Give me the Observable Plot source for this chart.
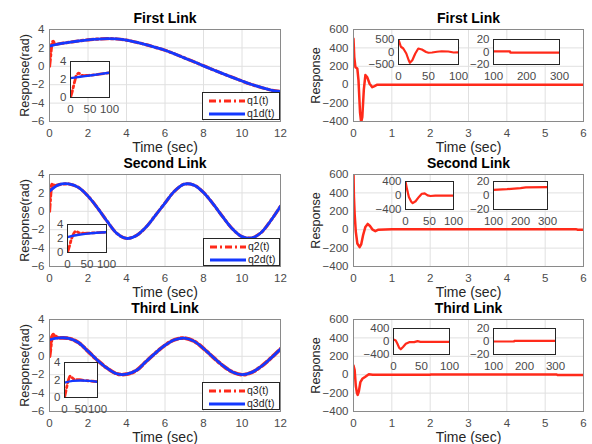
<!DOCTYPE html>
<html><head><meta charset="utf-8">
<script src="https://cdn.jsdelivr.net/npm/d3@7"></script>
<script src="https://cdn.jsdelivr.net/npm/@observablehq/plot@0.6"></script>
<style>
body{margin:0;background:#fff;}
#chart{position:relative;width:592px;height:444px;overflow:hidden;font-family:"Liberation Sans",Arial,sans-serif;background:#fff;}
#chart svg{position:absolute;}
.legend{position:absolute;border:1px solid #262626;background:#fff;font-size:10.5px;color:#222;box-sizing:border-box;}
.legend .row{position:absolute;left:0;height:12px;}
.legend .row span{position:absolute;left:44px;top:-1px;white-space:nowrap;}
.legend .row svg{position:absolute;left:5px;top:0;}
</style></head><body><div id="chart"></div>
<script>
// ---------- tick labels ----------
const xTicksLeft = [0, 2, 4, 6, 8, 10, 12];
const yTicksLeft = [-6, -4, -2, 0, 2, 4];
const xTicksRight = [0, 1, 2, 3, 4, 5, 6];
const yTicksRight = [-400, -200, 0, 200, 400, 600];
const insetXTicksA = [0, 50, 100];
const insetXTicksB = [100, 200, 300];
const insetYTicksL = [0, 2, 4];
const insetYTicks1 = [-500, 0, 500];
const insetYTicks2 = [-400, 0, 400];
const insetYTicksB = [-20, 0, 20];

// ---------- titles / labels ----------
const titles = ["First Link", "Second Link", "Third Link"];
const legendLabels = [["q1(t)", "q1d(t)"], ["q2(t)", "q2d(t)"], ["q3(t)", "q3d(t)"]];

// ---------- left column: joint positions ----------
const tMain = [0,0.5,1,1.5,2,2.5,3,3.5,4,4.5,5,5.5,6,6.5,7,7.5,8,8.5,9,9.5,10,10.5,11,11.5,12];
const q1d = [2.2,2.45,2.6,2.75,2.88,2.96,3.0,2.97,2.84,2.62,2.36,2.06,1.74,1.35,0.92,0.5,0.05,-0.37,-0.8,-1.2,-1.6,-1.98,-2.3,-2.58,-2.75];
const q2d = [2.2,2.9,2.97,2.6,1.65,0.35,-1.1,-2.4,-2.95,-2.65,-1.75,-0.45,0.9,2.2,2.95,2.85,2.05,0.8,-0.6,-1.9,-2.75,-2.9,-2.3,-1.0,0.55];
const q3d = [1.8,2.0,1.95,1.5,0.55,-0.45,-1.3,-1.9,-1.95,-1.55,-0.6,0.35,1.2,1.8,1.98,1.65,0.85,-0.1,-1.0,-1.7,-2.0,-1.75,-1.1,-0.2,0.8];
// actual response start-up transients (then it follows the desired path)
const q1tT = [0,0.04,0.08,0.12,0.16,0.2,0.25,0.35];
const q1tV = [0,0.8,1.7,2.4,2.65,2.7,2.5,2.4];
const q2tT = [0,0.04,0.08,0.12,0.16,0.22,0.3,0.4];
const q2tV = [0,1.2,2.3,2.9,3.0,2.85,2.8,2.85];
const q3tT = [0,0.04,0.08,0.13,0.2,0.27,0.35,0.45];
const q3tV = [0,0.7,1.5,2.1,2.35,2.25,2.1,2.02];

// left insets (x: 0..100)
const inXBlue = [0,25,50,75,100];
const in1Blue = [2.15,2.3,2.45,2.6,2.75];
const in1RedX = [0,4,8,12,15,21,30,40,50,60,80,100];
const in1Red = [0,0.6,1.3,2.0,2.45,2.7,2.45,2.45,2.48,2.52,2.62,2.75];
const in2Blue = [2.2,2.5,2.7,2.82,2.9];
const in2RedX = [0,5,10,15,20,25,30,40,50,60,80,100];
const in2Red = [0,0.9,1.9,2.6,3.0,2.95,2.8,2.75,2.75,2.78,2.85,2.9];
const in3Blue = [1.7,1.9,1.95,1.9,1.8];
const in3RedX = [0,4,8,12,17,22,28,35,45,55,75,100];
const in3Red = [0,0.7,1.4,2.0,2.45,2.3,2.1,2.05,2.05,1.98,1.9,1.8];

// ---------- right column: control inputs ----------
const u1T = [0,0.02,0.05,0.1,0.13,0.17,0.2,0.23,0.27,0.31,0.36,0.42,0.49,0.55,0.62,1,2,3,4,5,6];
const u1V = [500,300,190,175,50,-300,-410,-350,-50,105,80,10,-27,-15,0,0,0,0,0,0,0];
const u2T = [0,0.01,0.03,0.06,0.1,0.16,0.2,0.25,0.31,0.37,0.43,0.5,0.57,0.65,1,5.8,5.85,6];
const u2V = [620,370,170,-20,-150,-190,-160,-60,30,63,40,0,-16,0,4,6,0,0];
const u3T = [0,0.03,0.06,0.09,0.11,0.14,0.18,0.23,0.3,0.4,0.5,2,2.02,5.3,5.32,6];
const u3V = [100,50,-120,-200,-220,-180,-80,-45,-25,5,0,0,3,3,-3,-3];
// right insets
const r1aX = [0,4,8,13,17,19,23,28,33,39,46,50,56,64,72,83,92,100];
const r1aY = [500,210,140,-60,-330,-430,-330,-60,140,100,0,-30,-20,10,30,20,-20,-10];
const r1bX = [100,150,151,300];
const r1bY = [1,1,-1,-1];
const r2aX = [0,3,7,12,15,21,28,34,40,46,52,62,100];
const r2aY = [400,190,-40,-180,-220,-165,-40,50,60,5,-15,-5,-5];
const r2bX = [100,150,200,220,300];
const r2bY = [8,9,10.5,11.5,12];
const r3aX = [0,4,7,10,13,17,22,28,37,43,48,60,100];
const r3aY = [60,30,-70,-190,-240,-170,-70,-20,-20,10,-10,-10,-10];
const r3bX = [100,166,167,300];
const r3bY = [0,0,1,1];

// ---------- styling ----------
const RED = "#ff2a1a", BLUE = "#1438ff";
const FONT = "'Liberation Sans', Arial, sans-serif";
const rows = (xs, ys) => xs.map((x, i) => ({x, y: ys[i]}));
const chart = document.getElementById("chart");

function place(svg, left, top) {
  svg.style.left = left + "px";
  svg.style.top = top + "px";
  chart.appendChild(svg);
}

function mainPanel({f, svgL, svgR, xDomain, yDomain, xTicks, yTicks, lines, title, ylabel, ylabDx}) {
  const [x0, y0, x1, y1] = f;
  const mt = 29, mb = 30;
  const width = svgR - svgL, height = (y1 - y0) + mt + mb;
  const svg = Plot.plot({
    width, height,
    marginLeft: x0 - svgL, marginRight: svgR - x1, marginTop: mt, marginBottom: mb,
    style: {background: "transparent", overflow: "visible", fontFamily: FONT, fontSize: "11.5px", color: "#4a4a4a"},
    x: {domain: xDomain}, y: {domain: yDomain},
    marks: [
      Plot.gridX(xTicks, {stroke: "#e0e0e0", strokeOpacity: 1}),
      Plot.gridY(yTicks, {stroke: "#e0e0e0", strokeOpacity: 1}),
      Plot.axisX(xTicks, {tickSize: 0, tickPadding: 7, label: null, fontSize: 11.5}),
      Plot.axisY(yTicks, {tickSize: 0, tickPadding: 5, label: null, fontSize: 11.5}),
      ...lines,
      Plot.frame({stroke: "#8a8a8a"}),
      Plot.text([title], {text: d => d, frameAnchor: "top", dy: -11, lineAnchor: "middle", fontWeight: "bold", fontSize: 14, fill: "#000"}),
      Plot.text(["Time (sec)"], {text: d => d, frameAnchor: "bottom", dy: 26, lineAnchor: "middle", fontSize: 14, fill: "#262626"}),
      Plot.text([ylabel], {text: d => d, frameAnchor: "left", dx: ylabDx, rotate: -90, textAnchor: "middle", lineAnchor: "middle", fontSize: 12.5, fill: "#262626"})
    ]
  });
  place(svg, svgL, y0 - mt);
}

function inset({f, xDomain, yDomain, xTicks, yTicks, lines}) {
  const [x0, y0, x1, y1] = f;
  const ml = 34, mr = 12, mt = 8, mb = 22;
  const svg = Plot.plot({
    width: (x1 - x0) + ml + mr, height: (y1 - y0) + mt + mb,
    marginLeft: ml, marginRight: mr, marginTop: mt, marginBottom: mb,
    style: {background: "transparent", overflow: "visible", fontFamily: FONT, fontSize: "11.5px", color: "#4a4a4a"},
    x: {domain: xDomain}, y: {domain: yDomain},
    marks: [
      Plot.frame({fill: "white", stroke: "none"}),
      Plot.axisX(xTicks, {tickSize: 0, tickPadding: 7, label: null, fontSize: 11.5}),
      Plot.axisY(yTicks, {tickSize: 0, tickPadding: 4, label: null, fontSize: 11.5}),
      ...lines,
      Plot.frame({stroke: "#262626"})
    ]
  });
  place(svg, x0 - ml, y0 - mt);
}

const redDash = (data, w = 3.2) => Plot.line(data, {x: "x", y: "y", stroke: RED, strokeWidth: w, strokeDasharray: "7,3,2,3", curve: "catmull-rom", clip: true});
const blueLine = (data, w = 2.8) => Plot.line(data, {x: "x", y: "y", stroke: BLUE, strokeWidth: w, curve: "catmull-rom", clip: true});
const redSolid = (data, w = 2.5) => Plot.line(data, {x: "x", y: "y", stroke: RED, strokeWidth: w, clip: true});

// ---------- left column ----------
const leftFrames = [[49, 29, 280, 121], [49, 174, 280, 266], [49, 319, 280, 411]];
const desired = [q1d, q2d, q3d];
const transT = [q1tT, q2tT, q3tT];
const transV = [q1tV, q2tV, q3tV];
leftFrames.forEach((f, i) => {
  const blue = rows(tMain, desired[i]);
  const red = rows(transT[i], transV[i]).concat(rows(tMain.slice(1), desired[i].slice(1)));
  mainPanel({f, svgL: 0, svgR: 295, xDomain: [0, 12], yDomain: [-6, 4], xTicks: xTicksLeft, yTicks: yTicksLeft,
    lines: [redDash(red, i === 2 ? 3.8 : 3.2), blueLine(blue)], title: titles[i], ylabel: "Response(rad)", ylabDx: -25});
});

// ---------- right column ----------
const rightFrames = [[353, 29, 583, 121], [353, 174, 583, 266], [353, 319, 583, 411]];
const uT = [u1T, u2T, u3T], uV = [u1V, u2V, u3V];
rightFrames.forEach((f, i) => {
  mainPanel({f, svgL: 295, svgR: 592, xDomain: [0, 6], yDomain: [-400, 600], xTicks: xTicksRight, yTicks: yTicksRight,
    lines: [redSolid(rows(uT[i], uV[i]))], title: titles[i], ylabel: "Response", ylabDx: -38});
});

// ---------- left insets ----------
inset({f: [70, 61, 109, 97], xDomain: [0, 100], yDomain: [0, 4], xTicks: insetXTicksA, yTicks: insetYTicksL,
  lines: [redDash(rows(in1RedX, in1Red), 2.8), blueLine(rows(inXBlue, in1Blue), 2.4)]});
inset({f: [67, 224, 106, 252], xDomain: [0, 100], yDomain: [0, 4], xTicks: insetXTicksA, yTicks: insetYTicksL,
  lines: [redDash(rows(in2RedX, in2Red), 2.8), blueLine(rows(inXBlue, in2Blue), 2.4)]});
inset({f: [64, 362, 97, 397], xDomain: [0, 100], yDomain: [0, 4], xTicks: insetXTicksA, yTicks: insetYTicksL,
  lines: [redDash(rows(in3RedX, in3Red), 2.8), blueLine(rows(inXBlue, in3Blue), 2.4)]});

// ---------- right insets ----------
inset({f: [398, 39, 458, 64], xDomain: [0, 100], yDomain: [-500, 500], xTicks: insetXTicksA, yTicks: insetYTicks1,
  lines: [redSolid(rows(r1aX, r1aY), 2.2)]});
inset({f: [493, 39, 559, 64], xDomain: [100, 300], yDomain: [-20, 20], xTicks: insetXTicksB, yTicks: insetYTicksB,
  lines: [redSolid(rows(r1bX, r1bY), 2.2)]});
inset({f: [405, 181, 453, 209], xDomain: [0, 100], yDomain: [-400, 400], xTicks: insetXTicksA, yTicks: insetYTicks2,
  lines: [redSolid(rows(r2aX, r2aY), 2.2)]});
inset({f: [493, 181, 547, 209], xDomain: [100, 300], yDomain: [-20, 20], xTicks: insetXTicksB, yTicks: insetYTicksB,
  lines: [redSolid(rows(r2bX, r2bY), 2.2)]});
inset({f: [393, 328, 449, 354], xDomain: [0, 100], yDomain: [-400, 400], xTicks: insetXTicksA, yTicks: insetYTicks2,
  lines: [redSolid(rows(r3aX, r3aY), 2.2)]});
inset({f: [493, 328, 555, 354], xDomain: [100, 300], yDomain: [-20, 20], xTicks: insetXTicksB, yTicks: insetYTicksB,
  lines: [redSolid(rows(r3bX, r3bY), 2.2)]});

// ---------- legends ----------
const legendBoxes = [[202, 92, 280, 120], [203, 238, 280, 266], [202, 382, 280, 410]];
legendBoxes.forEach(([x0, y0, x1, y1], i) => {
  const div = document.createElement("div");
  div.className = "legend";
  Object.assign(div.style, {left: x0 + "px", top: y0 + "px", width: (x1 - x0) + "px", height: (y1 - y0) + "px"});
  const entries = [
    {label: legendLabels[i][0], stroke: RED, dash: "7,3,2,3", w: 3},
    {label: legendLabels[i][1], stroke: BLUE, dash: "none", w: 2.8}
  ];
  entries.forEach((e, j) => {
    const row = document.createElement("div");
    row.className = "row";
    row.style.top = (j === 0 ? 2 : 15) + "px";
    row.style.width = "100%";
    row.innerHTML = `<svg width="38" height="12"><line x1="1" x2="37" y1="6" y2="6" stroke="${e.stroke}" stroke-width="${e.w}" stroke-dasharray="${e.dash}"/></svg><span>${e.label}</span>`;
    div.appendChild(row);
  });
  chart.appendChild(div);
});
</script>
</body></html>
